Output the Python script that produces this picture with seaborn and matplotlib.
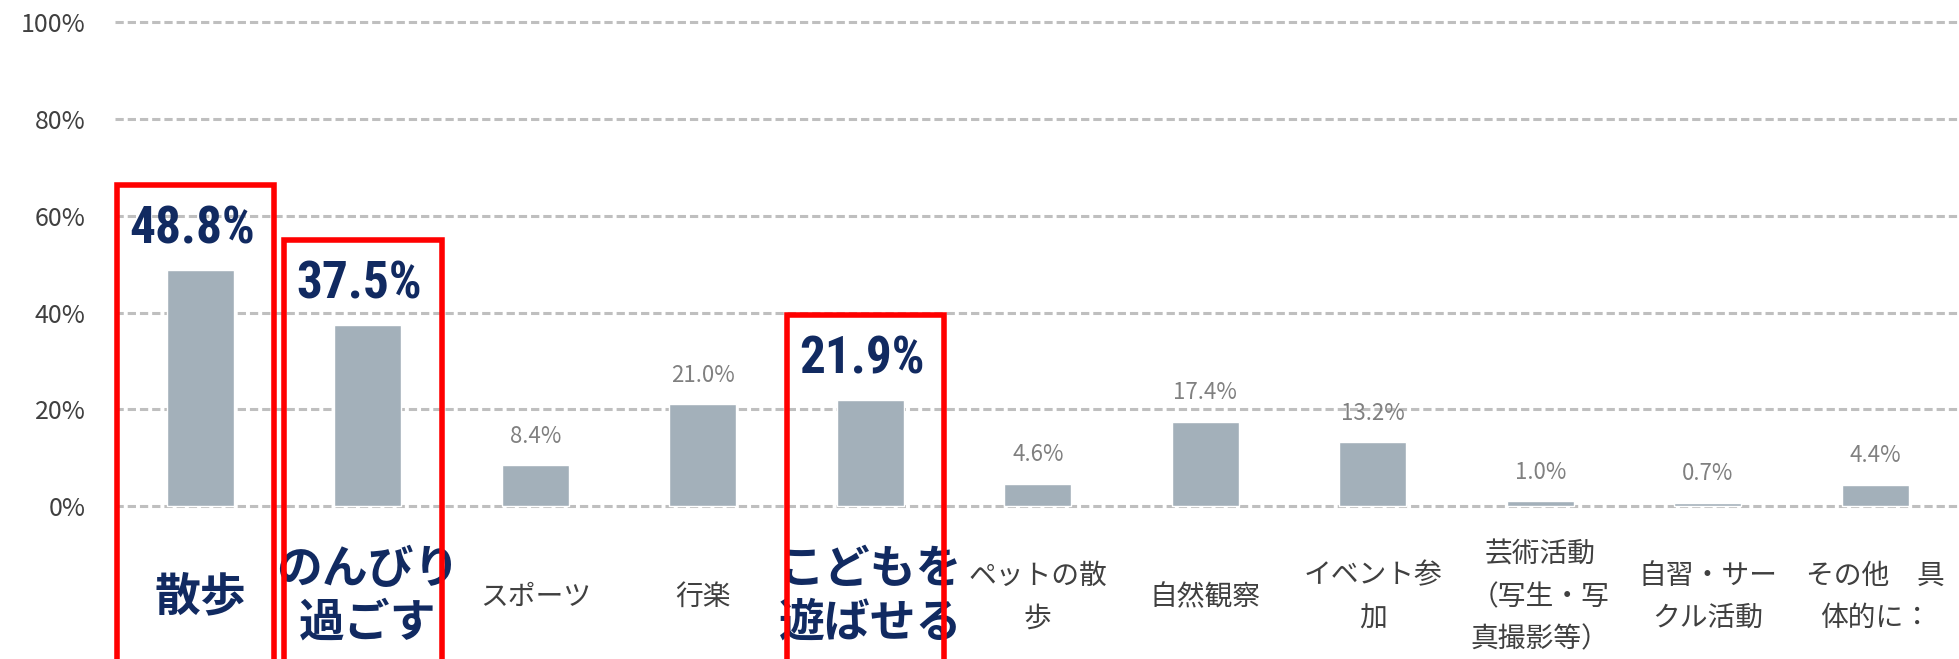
import matplotlib
matplotlib.use("Agg")
import matplotlib.pyplot as plt
from matplotlib.patches import Rectangle
import seaborn as sns
import pandas as pd

categories = ["散歩", "のんびり過ごす", "スポーツ", "行楽", "こどもを遊ばせる", "ペットの散歩",
              "自然観察", "イベント参加", "芸術活動（写生・写真撮影等）", "自習・サークル活動",
              "その他　具体的に："]
values = [48.8, 37.5, 8.4, 21.0, 21.9, 4.6, 17.4, 13.2, 1.0, 0.7, 4.4]
tick_labels = ["散歩", "のんびり\n過ごす", "スポーツ", "行楽", "こどもを\n遊ばせる", "ペットの散\n歩",
               "自然観察", "イベント参\n加", "芸術活動\n（写生・写\n真撮影等）", "自習・サー\nクル活動",
               "その他　具\n体的に："]
highlighted = [0, 1, 4]
y_ticks = [0, 20, 40, 60, 80, 100]

BAR_COLOR = "#a3b0ba"
NAVY = "#112a61"
TEXT_GRAY = "#404040"
LABEL_GRAY = "#808080"

sns.set_theme(style="white")
plt.rcParams["font.family"] = ["Noto Sans CJK JP", "DejaVu Sans"]

df = pd.DataFrame({"category": categories, "value": values})

fig = plt.figure(figsize=(19.59, 6.59), dpi=100)
ax = fig.add_axes([0.0587, 0.2249, 0.9413, 0.7483])

sns.barplot(data=df, x="category", y="value", color=BAR_COLOR, width=0.4,
            saturation=1, ax=ax, zorder=2)

ax.set_xlim(-0.51, 10.5)
ax.set_ylim(-1, 101)
ax.set_xlabel("")
ax.set_ylabel("")
sns.despine(ax=ax, left=True, bottom=True)

for y in y_ticks:
    ax.axhline(y, color="#bfbfbf", lw=2.2, linestyle=(0, (2.7, 1.3)), zorder=1)

ax.set_yticks(y_ticks)
ax.set_yticklabels([f"{t}%" for t in y_ticks], fontsize=18, color=TEXT_GRAY)
ax.tick_params(axis="y", length=0, pad=21)

ax.set_xticks(range(len(categories)))
ax.set_xticklabels(tick_labels, fontsize=20, color=TEXT_GRAY, va="center", linespacing=1.55)
ax.tick_params(axis="x", length=0, pad=62)

for i, lab in enumerate(ax.get_xticklabels()):
    if i in highlighted:
        lab.set_fontsize(33)
        lab.set_color(NAVY)
        lab.set_fontweight("bold")
        lab.set_linespacing(1.2)
        lab.set_bbox(dict(facecolor="white", edgecolor="none", alpha=0.75, pad=2))

# value labels
for i, v in enumerate(values):
    if i in highlighted:
        ax.text(i - 0.05, v + 8.3, f"{v:.1f}%", ha="center", va="center",
                fontsize=37, fontweight="bold", color=NAVY,
                family=["Roboto Condensed", "Roboto", "DejaVu Sans"], zorder=5)
        # red highlight frame
        ax.add_patch(Rectangle((i - 0.5, -45), 0.94, v + 17.5 + 45, fill=False,
                               edgecolor="#ff0000", lw=4, clip_on=False, zorder=1.5))
    else:
        ax.text(i, v + 6, f"{v:.1f}%", ha="center", va="center",
                fontsize=16, color=LABEL_GRAY, zorder=5)

fig.savefig("out.png", dpi=100, facecolor="white")
